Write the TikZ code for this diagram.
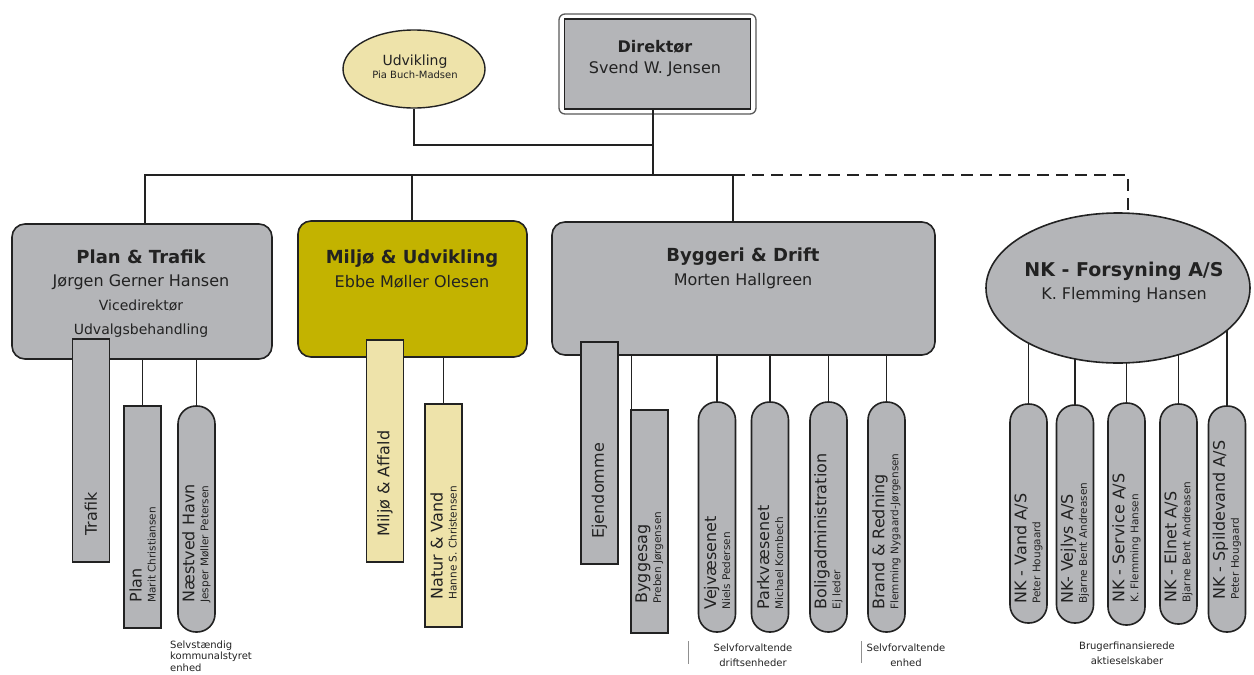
\documentclass[tikz,border=0pt]{standalone}
\usepackage{fontspec}
\setmainfont{DejaVu Sans}
\usetikzlibrary{shapes.geometric}
\pgfdeclarelayer{bg}
\pgfsetlayers{bg,main}
\definecolor{boxgray}{HTML}{B4B5B8}
\definecolor{olivebox}{HTML}{C3B300}
\definecolor{khaki}{HTML}{EEE3AA}
\definecolor{ink}{HTML}{222222}
\newcommand{\vmain}[1]{{\fontsize{16}{16}\selectfont #1}}
\begin{document}
\begin{tikzpicture}[x=1pt,y=-1pt,color=ink,
  conn/.style={line width=1.4pt, draw=ink},
  dconn/.style={line width=1.4pt, draw=ink, dash pattern=on 12pt off 7pt},
  tick/.style={line width=0.7pt, draw=ink!50},
  gbox/.style={draw=ink, line width=1.6pt, fill=boxgray, rounded corners=13pt, inner sep=0pt},
  vrect/.style={draw=ink, line width=1.6pt, fill=boxgray, minimum width=37pt, inner sep=0pt},
  vpill/.style={vrect, rounded corners=18pt},
  khrect/.style={vrect, fill=khaki},
  title/.style={font=\fontsize{18}{20}\selectfont\bfseries, anchor=base, inner sep=0pt},
  sub/.style={font=\fontsize{16}{18}\selectfont, anchor=base, inner sep=0pt},
  subb/.style={font=\fontsize{14}{16}\selectfont, anchor=base, inner sep=0pt},
  note/.style={font=\fontsize{10}{15}\selectfont, align=center, inner sep=0pt, anchor=north},
  vlbl/.style={rotate=90, anchor=west, align=left, inner sep=0pt, font=\fontsize{10.5}{14}\selectfont}]
\useasboundingbox (0,0) rectangle (1254,675);

% top
\node[draw=ink!75, line width=1.3pt, fill=white, rounded corners=6pt, minimum width=197pt, minimum height=100pt, inner sep=0pt] (dirO) at (657.5,64) {};
\node[draw=ink, line width=1.3pt, fill=boxgray, minimum width=186pt, minimum height=90pt, inner sep=0pt] (dir) at (657.5,64) {};
\node[title, font=\fontsize{16}{18}\selectfont\bfseries] (dirT) at (655,52) {Direktør};
\node[sub] (dirS) at (655,73) {Svend W. Jensen};

\node[ellipse, draw=ink, line width=1.4pt, fill=khaki, minimum width=142pt, minimum height=78pt, inner sep=0pt] (udv) at (414,69) {};
\node[subb] (udvT) at (415,65) {Udvikling};
\node[anchor=base, inner sep=0pt, font=\fontsize{10}{12}\selectfont] (udvS) at (415,78) {Pia Buch-Madsen};

% department boxes
\node[gbox, minimum width=260pt, minimum height=135pt] (pt) at (142,291.5) {};
\node[gbox, fill=olivebox, minimum width=229pt, minimum height=136pt] (mu) at (412.5,289) {};
\node[gbox, minimum width=383pt, minimum height=133pt] (bd) at (743.5,288.5) {};

% bus coordinates
\coordinate (j1) at (653,145);
\coordinate (bL) at (145,175);
\coordinate (bU) at (412,175);
\coordinate (bM) at (653,175);
\coordinate (bB) at (733,175);
\coordinate (bR) at (1128,175);

\begin{pgfonlayer}{bg}
\draw[dconn] (bB) -- (bR) -- (bR |- 0,288);
\end{pgfonlayer}
\node[ellipse, draw=ink, line width=1.6pt, fill=boxgray, minimum width=264pt, minimum height=150pt, inner sep=0pt] (nk) at (1118,288) {};

\draw[conn] (udv.south) |- (j1);
\draw[conn] (dir.south -| bM) -- (bM);
\draw[conn] (pt.north -| bL) -- (bL) -- (bB) -- (bd.north -| bB);
\draw[conn] (bU) -- (mu.north -| bU);

\node[title] (ptT) at (141,263) {Plan \& Trafik};
\node[sub] (ptS) at (141,286) {Jørgen Gerner Hansen};
\node[subb] (ptV) at (141,310) {Vicedirektør};
\node[subb] (ptU) at (141,334) {Udvalgsbehandling};
\node[title] (muT) at (412,263) {Miljø \& Udvikling};
\node[sub] (muS) at (412,287) {Ebbe Møller Olesen};
\node[title] (bdT) at (743,261) {Byggeri \& Drift};
\node[sub] (bdS) at (743,285) {Morten Hallgreen};
\node[title, font=\fontsize{19}{21}\selectfont\bfseries] (nkT) at (1124,276) {NK - Forsyning A/S};
\node[sub] (nkS) at (1124,299) {K. Flemming Hansen};

% sub units
\node[vrect, minimum height=223pt] (trafik) at (91,450.5) {};
\node[vrect, minimum height=222pt] (plan) at (142.5,517) {};
\node[vpill, minimum height=226pt] (havn) at (196.5,519) {};
\node[khrect, minimum height=222pt] (maff) at (385,451) {};
\node[khrect, minimum height=223pt] (nv) at (443.5,515.5) {};
\node[vrect, minimum height=222pt] (ejd) at (599.5,453) {};
\node[vrect, minimum height=223pt] (bsag) at (649.5,521.5) {};
\node[vpill, minimum height=230pt] (vej) at (717,517) {};
\node[vpill, minimum height=230pt] (park) at (770,517) {};
\node[vpill, minimum height=230pt] (bolig) at (828.5,517) {};
\node[vpill, minimum height=230pt] (brand) at (886.5,517) {};

\node[vpill, minimum height=219pt] (nkv) at (1028.5,513.5) {};
\node[vpill, minimum height=218pt] (nkvl) at (1075,514) {};
\node[vpill, minimum height=222pt] (nks) at (1126.5,514) {};
\node[vpill, minimum height=220pt] (nke) at (1178.5,514) {};
\node[vpill, minimum height=226pt] (nksp) at (1227,519) {};

\begin{pgfonlayer}{bg}
\foreach \c in {nkv,nkvl,nks,nke,nksp}{
  \draw[conn] (\c.north) -- (\c.north |- nk.center);
}
\end{pgfonlayer}

\coordinate (bsagC) at ([xshift=1.5pt]bsag.north west);
\draw[conn] (plan.north) -- (plan.north |- pt.south);
\draw[conn] (havn.north) -- (havn.north |- pt.south);
\draw[conn] (nv.north) -- (nv.north |- mu.south);
\draw[conn] (bsagC) -- (bsagC |- bd.south);
\foreach \c in {vej,park,bolig,brand}{
  \draw[conn] (\c.north) -- (\c.north |- bd.south);
}

% vertical labels
\node[vlbl] (trafikL) at ([yshift=27pt]trafik.south) {\vmain{Trafik}};
\node[vlbl] (planL) at ([yshift=26pt]plan.south) {\vmain{Plan}\\Marit Christiansen};
\node[vlbl] (havnL) at ([yshift=30pt]havn.south) {\vmain{Næstved Havn}\\Jesper Møller Petersen};
\node[vlbl] (maffL) at ([yshift=26pt]maff.south) {\vmain{Miljø \& Affald}};
\node[vlbl] (nvL) at ([yshift=28pt]nv.south) {\vmain{Natur \& Vand}\\Hanne S. Christensen};
\node[vlbl] (ejdL) at ([yshift=26pt]ejd.south) {\vmain{Ejendomme}};
\node[vlbl] (bsagL) at ([yshift=30pt]bsag.south) {\vmain{Byggesag}\\Preben Jørgensen};
\node[vlbl] (vejL) at ([yshift=23pt]vej.south) {\vmain{Vejvæsenet}\\Niels Pedersen};
\node[vlbl] (parkL) at ([yshift=23pt]park.south) {\vmain{Parkvæsenet}\\Michael Kornbech};
\node[vlbl] (boligL) at ([yshift=23pt]bolig.south) {\vmain{Boligadministration}\\Ej leder};
\node[vlbl] (brandL) at ([yshift=23pt]brand.south) {\vmain{Brand \& Redning}\\Flemming Nygaard-Jørgensen};
\node[vlbl] (nkvL) at ([yshift=20pt]nkv.south) {\vmain{NK - Vand A/S}\\Peter Hougaard};
\node[vlbl] (nkvlL) at ([yshift=20pt]nkvl.south) {\vmain{NK- Vejlys A/S}\\Bjarne Bent Andreasen};
\node[vlbl] (nksL) at ([yshift=23pt]nks.south) {\vmain{NK - Service A/S}\\K. Flemming Hansen};
\node[vlbl] (nkeL) at ([yshift=22pt]nke.south) {\vmain{NK - Elnet A/S}\\Bjarne Bent Andreasen};
\node[vlbl] (nkspL) at ([yshift=33pt]nksp.south) {\vmain{NK - Spildevand A/S}\\Peter Hougaard};

% notes
\node[note, anchor=north west, align=left, font=\fontsize{10}{11.5}\selectfont] (n1) at (170,640.5) {Selvstændig\\kommunalstyret\\enhed};
\node[note] (n2) at (753,643.5) {Selvforvaltende\\driftsenheder};
\node[note] (n3) at (906,643.5) {Selvforvaltende\\enhed};
\node[note] (n4) at (1127,641.5) {Brugerfinansierede\\aktieselskaber};
\coordinate (t1a) at (688,641); \coordinate (t1b) at (688,664);
\coordinate (t2a) at (861,641); \coordinate (t2b) at (861,663);
\draw[tick] (t1a) -- (t1b);
\draw[tick] (t2a) -- (t2b);
\end{tikzpicture}
\end{document}
